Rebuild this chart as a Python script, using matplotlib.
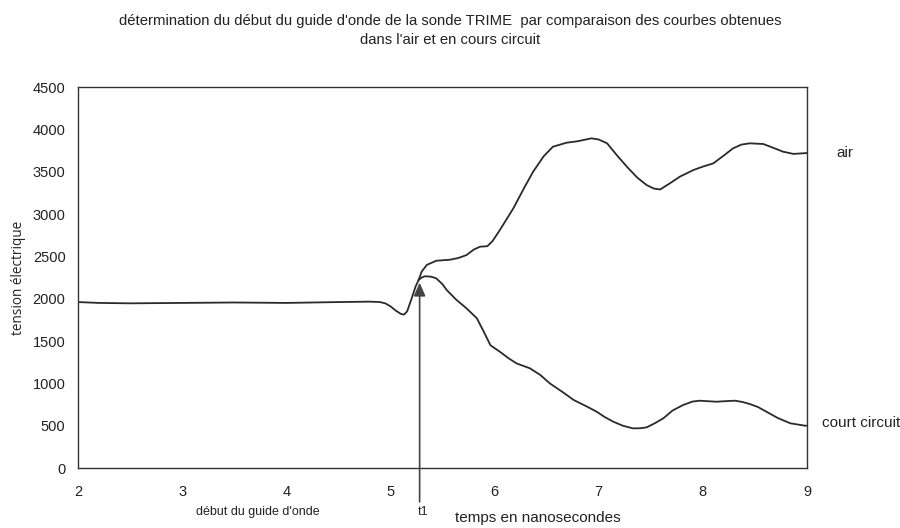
import matplotlib
matplotlib.use("Agg")
import matplotlib.pyplot as plt

plt.rcParams['font.family'] = ['Liberation Sans', 'DejaVu Sans']

# shared part (before t1)
x_common = [2.0, 2.2, 2.5, 3.0, 3.5, 4.0, 4.5, 4.8, 4.9, 4.95, 5.0, 5.05, 5.1, 5.13, 5.16, 5.2, 5.24, 5.27]
y_common = [1960, 1950, 1945, 1950, 1955, 1950, 1960, 1965, 1960, 1945, 1910, 1860, 1820, 1812, 1850, 1990, 2140, 2220]

x_air = [5.30, 5.35, 5.44, 5.57, 5.65, 5.73, 5.80, 5.86, 5.93, 5.98, 6.05, 6.18, 6.28, 6.37, 6.47, 6.56,
         6.69, 6.80, 6.93, 7.00, 7.08, 7.17, 7.27, 7.37, 7.46, 7.53, 7.59, 7.68, 7.78, 7.91, 8.00, 8.10,
         8.20, 8.29, 8.37, 8.45, 8.58, 8.68, 8.77, 8.87, 8.96, 9.00]
y_air = [2320, 2400, 2448, 2460, 2480, 2515, 2580, 2614, 2620, 2680, 2810, 3067, 3300, 3500, 3680, 3795,
         3842, 3860, 3894, 3880, 3835, 3700, 3559, 3430, 3342, 3300, 3290, 3360, 3442, 3520, 3560, 3598,
         3690, 3776, 3820, 3835, 3827, 3780, 3736, 3710, 3717, 3720]

x_cc = [5.30, 5.33, 5.39, 5.44, 5.50, 5.54, 5.63, 5.73, 5.83, 5.90, 5.96, 6.05, 6.13, 6.21, 6.34, 6.44,
        6.53, 6.65, 6.76, 6.88, 6.98, 7.06, 7.14, 7.23, 7.33, 7.40, 7.46, 7.54, 7.62, 7.71, 7.81, 7.90,
        7.97, 8.13, 8.22, 8.31, 8.38, 8.45, 8.53, 8.61, 8.72, 8.84, 8.98, 9.00]
y_cc = [2250, 2265, 2260, 2240, 2170, 2102, 1990, 1886, 1768, 1600, 1450, 1374, 1300, 1236, 1177, 1098,
        1000, 900, 803, 730, 665, 600, 547, 500, 468, 470, 480, 530, 587, 680, 744, 785,
        795, 783, 790, 795, 780, 756, 720, 665, 590, 528, 500, 500]

x_ticks = [2, 3, 4, 5, 6, 7, 8, 9]
y_ticks = [0, 500, 1000, 1500, 2000, 2500, 3000, 3500, 4000, 4500]
t1 = 5.28
t1_level = 2190

title = ("détermination du début du guide d'onde de la sonde TRIME  par comparaison des courbes obtenues\n"
         "dans l'air et en cours circuit")

fig = plt.figure(figsize=(9, 5.28), dpi=100)
ax = fig.add_axes([0.0867, 0.1136, 0.81, 0.7216])

lc = '#2a2a2a'
ax.plot(x_common + x_air, y_common + y_air, color=lc, lw=1.3)
ax.plot(x_common[-1:] + x_cc, y_common[-1:] + y_cc, color=lc, lw=1.3)

ax.set_xlim(2, 9)
ax.set_ylim(0, 4500)
ax.set_xticks(x_ticks)
ax.set_yticks(y_ticks)
ax.tick_params(length=0, labelsize=10.5, colors='#222222')
ax.tick_params(axis='x', pad=12)
ax.tick_params(axis='y', pad=9)
for s in ax.spines.values():
    s.set_color('#333333')
    s.set_linewidth(1.0)

ax.annotate('', xy=(t1, t1_level), xytext=(t1, -400),
            xycoords='data', textcoords='data', annotation_clip=False,
            arrowprops=dict(arrowstyle='-|>,head_length=0.8,head_width=0.35',
                            color='#444444', lw=1.2, shrinkA=0, shrinkB=0))

ax.set_ylabel('tension électrique', fontsize=9.8, color='#222222', labelpad=5,
              family=['Open Sans', 'DejaVu Sans'])
fig.text(0.598, 0.0189, 'temps en nanosecondes', fontsize=11, ha='center', va='center', color='#222222')
fig.text(0.287, 0.030, "début du guide d'onde", fontsize=9, ha='center', va='center', color='#222222')
fig.text(0.470, 0.030, 't1', fontsize=9, ha='center', va='center', color='#222222')
fig.text(0.929, 0.710, 'air', fontsize=11, ha='left', va='center', color='#222222')
fig.text(0.913, 0.198, 'court circuit', fontsize=11, ha='left', va='center', color='#222222')
fig.text(0.5, 0.943, title, fontsize=10.7, ha='center', va='center', color='#222222', linespacing=1.45)

fig.savefig('out.png', dpi=100)
